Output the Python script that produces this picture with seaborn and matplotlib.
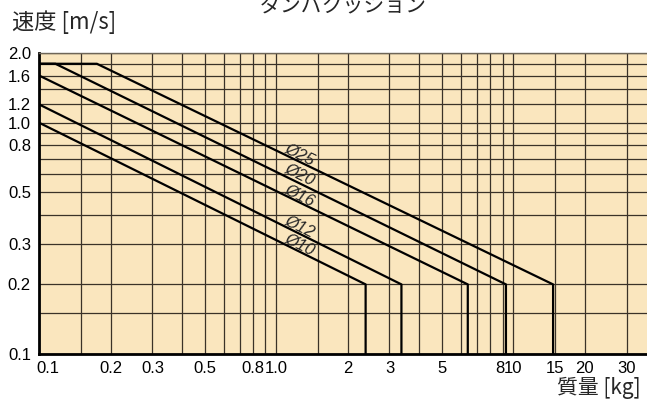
import numpy as np
import pandas as pd
import seaborn as sns
import matplotlib.pyplot as plt
from matplotlib.ticker import NullFormatter
from matplotlib.transforms import ScaledTranslation

# bore sizes and their allowable mass / speed curves
sizes = ["Ø10", "Ø12", "Ø16", "Ø20", "Ø25"]
mass_10 = [0.1, 2.38, 2.38]
speed_10 = [1.0, 0.2, 0.1]
mass_12 = [0.1, 3.37, 3.37]
speed_12 = [1.2, 0.2, 0.1]
mass_16 = [0.1, 6.42, 6.42]
speed_16 = [1.6, 0.2, 0.1]
mass_20 = [0.1, 0.117, 9.3, 9.3]
speed_20 = [1.8, 1.8, 0.2, 0.1]
mass_25 = [0.1, 0.175, 14.7, 14.7]
speed_25 = [1.8, 1.8, 0.2, 0.1]

x_ticks = [0.1, 0.2, 0.3, 0.5, 0.8, 1.0, 2, 3, 5, 8, 10, 15, 20, 30]
x_tick_labels = ["0.1", "0.2", "0.3", "0.5", "0.8", "1.0", "2", "3", "5", "8", "10", "15", "20", "30"]
x_minor = [0.15, 0.4, 0.6, 0.7, 0.9, 1.5, 4, 6, 7, 9]
y_ticks = [0.1, 0.2, 0.3, 0.5, 0.8, 1.0, 1.2, 1.6, 2.0]
y_tick_labels = ["0.1", "0.2", "0.3", "0.5", "0.8", "1.0", "1.2", "1.6", "2.0"]
y_minor = [0.15, 0.4, 0.6, 0.7, 0.9, 1.4, 1.8]

# where the size labels sit along each line
label_x = [1.26, 1.26, 1.26, 1.26, 1.26]
label_y = [0.299, 0.357, 0.487, 0.60, 0.732]

masses = [mass_10, mass_12, mass_16, mass_20, mass_25]
speeds = [speed_10, speed_12, speed_16, speed_20, speed_25]
rows = []
for s, m, v in zip(sizes, masses, speeds):
    for i in range(len(m)):
        rows.append({"size": s, "order": i, "mass": m[i], "speed": v[i]})
df = pd.DataFrame(rows)

sns.set_style("white")
plt.rcParams['font.family'] = ['Liberation Sans', 'Noto Sans CJK JP', 'DejaVu Sans']

fig = plt.figure(figsize=(6.47, 4.0), dpi=100)
ax = fig.add_axes([0.0607, 0.115, 0.9393, 0.752])
ax.set_facecolor('#FAE6BE')
ax.set_xscale('log')
ax.set_yscale('log')

sns.lineplot(data=df, x="mass", y="speed", hue="size", palette=["black"] * 5,
             sort=False, estimator=None, legend=False, linewidth=1.6, ax=ax, zorder=3)

ax.set_xlim(0.1, 36.6)
ax.set_ylim(0.1, 2.0)

ax.set_xticks(x_ticks)
ax.set_xticklabels(x_tick_labels)
ax.set_xticks(x_minor, minor=True)
ax.set_yticks(y_ticks)
ax.set_yticklabels(y_tick_labels)
ax.set_yticks(y_minor, minor=True)
ax.xaxis.set_minor_formatter(NullFormatter())
ax.yaxis.set_minor_formatter(NullFormatter())
ax.tick_params(which='both', length=0, labelsize=12, colors='black')
ax.tick_params(axis='x', pad=5)
ax.tick_params(axis='y', pad=6)
ax.set_xlabel("")
ax.set_ylabel("")

ax.grid(True, which='both', color='#3a3228', linewidth=0.9)
ax.set_axisbelow(True)

for side in ['left', 'bottom']:
    ax.spines[side].set_color('black')
    ax.spines[side].set_linewidth(2)
ax.spines['right'].set_visible(False)
ax.spines['top'].set_color('#6e6658')
ax.spines['top'].set_linewidth(1)

# nudge the crowded x labels like the original
for lbl in ax.get_xticklabels():
    if lbl.get_text() in ("0.1", "8"):
        lbl.set_transform(lbl.get_transform() + ScaledTranslation(9 / 100, 0, fig.dpi_scale_trans))

for s, lx, ly in zip(sizes, label_x, label_y):
    ax.text(lx, ly, s, rotation=-26, ha='center', va='center', fontsize=12,
            style='italic', rotation_mode='anchor', zorder=4)

fig.text(0.53, 0.985, "ダンパクッション", ha='center', va='center', fontsize=15,
         family=['Noto Sans CJK JP', 'DejaVu Sans'])
fig.text(12 / 647, 1 - 22 / 400, "速度 [m/s]", ha='left', va='center', fontsize=16,
         family=['Noto Sans CJK JP', 'DejaVu Sans'])
fig.text(641 / 647, 1 - 388 / 400, "質量 [kg]", ha='right', va='center', fontsize=15,
         family=['Noto Sans CJK JP', 'DejaVu Sans'])

fig.savefig("out.png", dpi=100)
